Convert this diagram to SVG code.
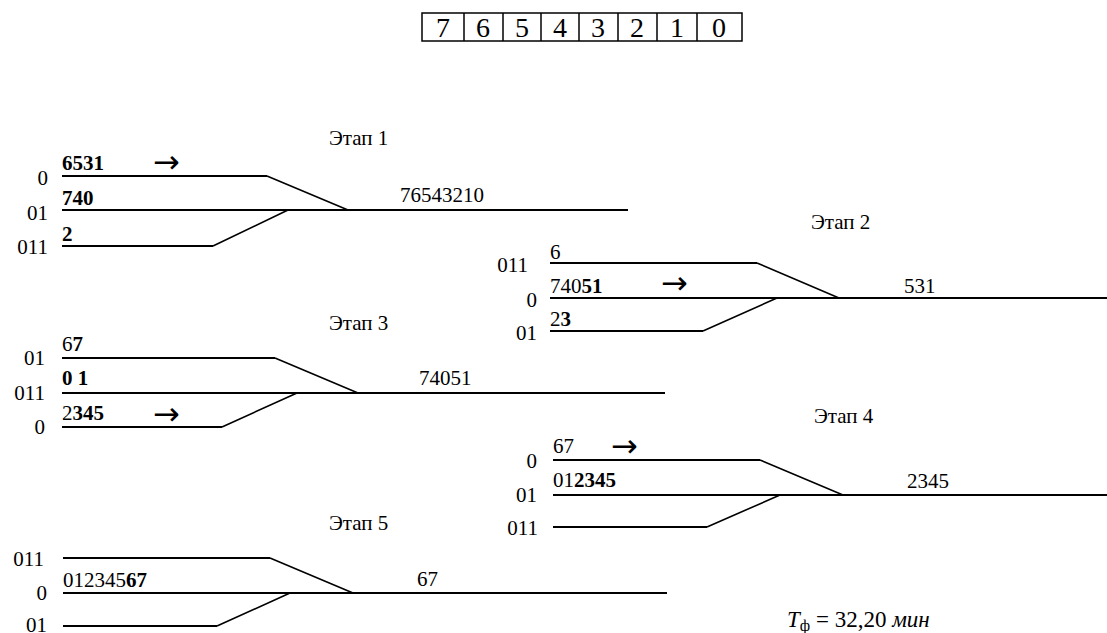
<svg xmlns="http://www.w3.org/2000/svg" width="1107" height="633" viewBox="0 0 1107 633">
<style>
text{font-family:"Liberation Serif","DejaVu Serif","Times New Roman",serif;fill:#000}
.t{font-size:21px}
.h{font-size:21px}
.b{font-weight:bold}
.box{font-size:28px}
.ar{font-size:32px;font-family:"DejaVu Sans",sans-serif}
.tr{stroke:#000;stroke-width:2;fill:none}
.dg{stroke:#000;stroke-width:1.6;fill:none}
.lab{font-size:21px;text-anchor:end}
.f{font-size:23px}
</style>
<rect width="1107" height="633" fill="#fff"/>
<g id="register">
<rect x="422" y="13" width="320" height="28" fill="none" stroke="#000" stroke-width="1.5"/>
<path d="M464 13V41M503 13V41M541 13V41M579 13V41M618 13V41M657 13V41M697 13V41" stroke="#000" stroke-width="1.5"/>
<g class="box" text-anchor="middle">
<text x="443" y="37">7</text><text x="483" y="37">6</text><text x="522" y="37">5</text><text x="560" y="37">4</text><text x="598" y="37">3</text><text x="637" y="37">2</text><text x="677" y="37">1</text><text x="719" y="37">0</text>
</g>
</g>
<g id="stage1">
<text class="h" x="329" y="145">Этап 1</text>
<g class="tr"><path d="M62 176H267M62 210H628M62 246H213"/></g>
<g class="dg"><path d="M267 176L348 210M213 246L288 210"/></g>
<text class="lab" x="48" y="185">0</text>
<text class="lab" x="48" y="220">01</text>
<text class="lab" x="48" y="254">011</text>
<text class="t b" x="62" y="170">6531</text>
<text class="ar" x="153" y="173">→</text>
<text class="t b" x="62" y="205">740</text>
<text class="t b" x="62" y="241">2</text>
<text class="t" x="400" y="202">76543210</text>
</g>
<g id="stage2">
<text class="h" x="811" y="229">Этап 2</text>
<g class="tr"><path d="M550 263H757M550 298H1107M550 331H703"/></g>
<g class="dg"><path d="M757 263L839 298M703 331L777 298"/></g>
<text class="lab" x="528" y="272">011</text>
<text class="lab" x="537" y="307">0</text>
<text class="lab" x="537" y="340">01</text>
<text class="t" x="550" y="259">6</text>
<text class="t" x="550" y="293">740<tspan class="b">51</tspan></text>
<text class="ar" x="661" y="294">→</text>
<text class="t" x="550" y="326">2<tspan class="b">3</tspan></text>
<text class="t" x="904" y="293">531</text>
</g>
<g id="stage3">
<text class="h" x="329" y="330">Этап 3</text>
<g class="tr"><path d="M62 358H275M62 393H665M62 427H222"/></g>
<g class="dg"><path d="M275 358L358 393M222 427L297 393"/></g>
<text class="lab" x="45" y="365">01</text>
<text class="lab" x="45" y="400">011</text>
<text class="lab" x="45" y="434">0</text>
<text class="t" x="62" y="351">6<tspan class="b">7</tspan></text>
<text class="t b" x="62" y="385">0 1</text>
<text class="t" x="62" y="420">2<tspan class="b">345</tspan></text>
<text class="ar" x="153" y="425">→</text>
<text class="t" x="419" y="385">74051</text>
</g>
<g id="stage4">
<text class="h" x="814" y="423">Этап 4</text>
<g class="tr"><path d="M553 460H760M553 495H1107M553 527H707"/></g>
<g class="dg"><path d="M760 460L843 495M707 527L780 495"/></g>
<text class="lab" x="537" y="468">0</text>
<text class="lab" x="537" y="502">01</text>
<text class="lab" x="538" y="535">011</text>
<text class="t" x="553" y="453">67</text>
<text class="ar" x="611" y="457">→</text>
<text class="t" x="553" y="487">01<tspan class="b">2345</tspan></text>
<text class="t" x="907" y="488">2345</text>
</g>
<g id="stage5">
<text class="h" x="329" y="530">Этап 5</text>
<g class="tr"><path d="M63 558H270M63 593H667M63 626H217"/></g>
<g class="dg"><path d="M270 558L353 593M217 626L290 593"/></g>
<text class="lab" x="44" y="566">011</text>
<text class="lab" x="47" y="600">0</text>
<text class="lab" x="47" y="632">01</text>
<text class="t" x="63" y="587">012345<tspan class="b">67</tspan></text>
<text class="t" x="417" y="586">67</text>
</g>
<g id="formula">
<text class="f" x="787" y="627"><tspan font-style="italic">T</tspan><tspan font-size="16px" dy="4">ф</tspan><tspan dy="-4"> = 32,20 </tspan><tspan font-style="italic">мин</tspan></text>
</g>
</svg>
